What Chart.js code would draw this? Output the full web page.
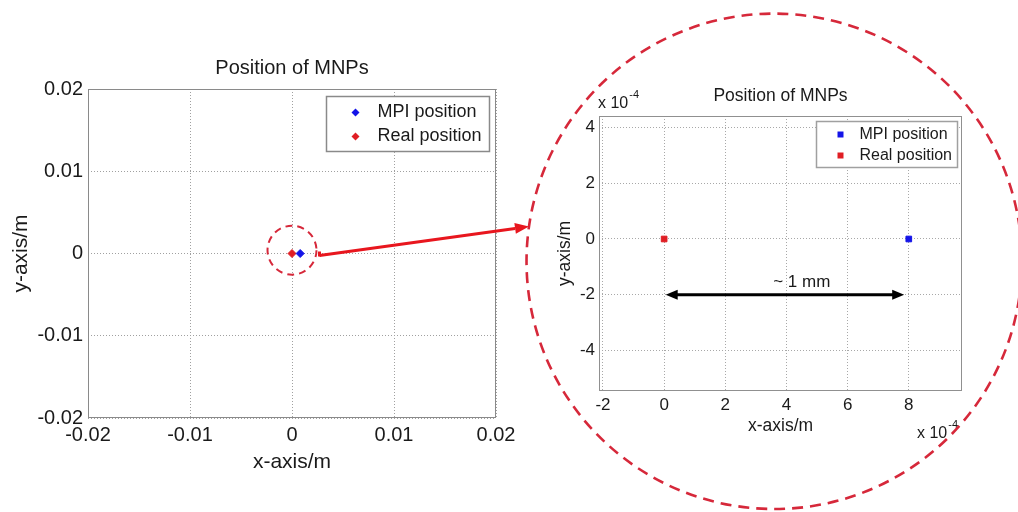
<!DOCTYPE html>
<html><head><meta charset="utf-8">
<script src="https://cdn.jsdelivr.net/npm/chart.js@4.4.1/dist/chart.umd.min.js"></script>
<style>
html,body{margin:0;padding:0;background:#fff;width:1018px;height:512px;overflow:hidden}
canvas{position:absolute;left:0;top:0}
</style></head><body>
<canvas id="c1" width="1018" height="512"></canvas>
<canvas id="c2" width="1018" height="512"></canvas>
<canvas id="ov" width="1018" height="512"></canvas>
<script>
// ---------- data ----------
const seriesNames = ['MPI position', 'Real position'];
const mpiPos = [{x: 0.0008, y: 0}];
const realPos = [{x: 0, y: 0}];
const fullRange = [-0.02, 0.02];
const fullTicks = [-0.02, -0.01, 0, 0.01, 0.02];
const fullTickLabels = ['-0.02', '-0.01', '0', '0.01', '0.02'];

const zoomMpiPos = [{x: 8e-4, y: 0}];
const zoomRealPos = [{x: 0, y: 0}];
const zoomXRange = [-2.13e-4, 9.74e-4];
const zoomYRange = [-5.45e-4, 4.41e-4];
const zoomXTicks = [-2e-4, 0, 2e-4, 4e-4, 6e-4, 8e-4];
const zoomXTickLabels = ['-2', '0', '2', '4', '6', '8'];
const zoomYTicks = [-4e-4, -2e-4, 0, 2e-4, 4e-4];
const zoomYTickLabels = ['-4', '-2', '0', '2', '4'];
const distanceFrom = [0.05e-4, -2e-4];
const distanceTo = [7.85e-4, -2e-4];
const distanceLabel = '~ 1 mm';
const distanceLabelX = 4.5e-4;
const exponentLabel = ['x 10', '-4'];

const titleText = 'Position of MNPs';
const xLabel = 'x-axis/m';
const yLabel = 'y-axis/m';

// zoom markers (data coordinates)
const smallCircle = {x: 0, y: 0.0004, r: 0.0024};
const bigCircle = {x: 3.6e-4, y: -0.8e-4, r: 8.1e-4};

// ---------- styles ----------
const FONT = "'Liberation Sans', Arial, Helvetica, sans-serif";
const TXT = '#1a1a1a';
const BLUE = '#1414e8';
const RED = '#e01e24';

const decor = {
  id: 'decor',
  afterDraw(chart, args, o) {
    const ctx = chart.ctx, ca = chart.chartArea;
    ctx.save();
    ctx.setLineDash([]);
    ctx.strokeStyle = o.frameColor; ctx.lineWidth = 1;
    ctx.strokeRect(Math.round(ca.left) + 0.5, Math.round(ca.top) + 0.5,
                   Math.round(ca.right - ca.left) - 1, Math.round(ca.bottom - ca.top) - 1);
    // legend
    const L = o.legend;
    const bx = Math.round(ca.right - L.right - L.w) + 0.5, by = Math.round(ca.top + L.top) + 0.5;
    ctx.fillStyle = '#fff'; ctx.fillRect(bx, by, L.w, L.h);
    ctx.strokeStyle = L.border; ctx.lineWidth = 1.5; ctx.strokeRect(bx, by, L.w, L.h);
    chart.data.datasets.forEach((ds, i) => {
      const y = by + L.rows[i];
      const mx = bx + L.markerX;
      ctx.fillStyle = ds.backgroundColor;
      ctx.beginPath();
      const r = L.markerR;
      if (ds.pointStyle === 'rectRot') {
        ctx.moveTo(mx, y - r); ctx.lineTo(mx + r, y); ctx.lineTo(mx, y + r); ctx.lineTo(mx - r, y); ctx.closePath();
      } else {
        ctx.rect(mx - r, y - r, 2 * r, 2 * r);
      }
      ctx.fill();
      ctx.fillStyle = TXT; ctx.font = L.size + 'px ' + FONT;
      ctx.textAlign = 'left'; ctx.textBaseline = 'middle';
      ctx.fillText(ds.label, bx + L.textX, y);
    });
    // exponent labels
    if (o.exponent) {
      const E = o.exponent;
      E.at.forEach(p => {
        const x = p.edge === 'left' ? ca.left + p.dx : ca.right + p.dx;
        const y = p.vedge === 'top' ? ca.top + p.dy : ca.bottom + p.dy;
        ctx.fillStyle = TXT; ctx.textAlign = 'left'; ctx.textBaseline = 'middle';
        ctx.font = E.size + 'px ' + FONT;
        ctx.fillText(exponentLabel[0], x, y);
        const w = ctx.measureText(exponentLabel[0]).width;
        ctx.font = E.supSize + 'px ' + FONT;
        ctx.fillText(exponentLabel[1], x + w + 1, y - 9);
      });
    }
    // distance arrow
    if (o.distance) {
      const sx = chart.scales.x, sy = chart.scales.y;
      const x1 = sx.getPixelForValue(distanceFrom[0]), y1 = sy.getPixelForValue(distanceFrom[1]);
      const x2 = sx.getPixelForValue(distanceTo[0]), y2 = sy.getPixelForValue(distanceTo[1]);
      ctx.strokeStyle = '#000'; ctx.fillStyle = '#000'; ctx.lineWidth = 3;
      const ah = 12, aw = 5;
      ctx.beginPath(); ctx.moveTo(x1 + ah - 2, y1); ctx.lineTo(x2 - ah + 2, y2); ctx.stroke();
      ctx.beginPath(); ctx.moveTo(x1, y1); ctx.lineTo(x1 + ah, y1 - aw); ctx.lineTo(x1 + ah, y1 + aw); ctx.closePath(); ctx.fill();
      ctx.beginPath(); ctx.moveTo(x2, y2); ctx.lineTo(x2 - ah, y2 - aw); ctx.lineTo(x2 - ah, y2 + aw); ctx.closePath(); ctx.fill();
      ctx.fillStyle = TXT; ctx.font = '17px ' + FONT; ctx.textAlign = 'center'; ctx.textBaseline = 'middle';
      ctx.fillText(distanceLabel, sx.getPixelForValue(distanceLabelX), y1 - 12);
    }
    ctx.restore();
  }
};

function fixedTicks(vals) { return s => { s.ticks = vals.map(v => ({value: v})); }; }

function axis(opts) {
  return {
    type: 'linear', min: opts.range[0], max: opts.range[1],
    afterBuildTicks: fixedTicks(opts.ticks),
    afterFit: opts.fit,
    ticks: {autoSkip: false, maxRotation: 0, padding: opts.pad, color: TXT,
            font: {family: FONT, size: opts.tickSize}, callback: (v, i) => opts.labels[i]},
    grid: {color: opts.gridColor, lineWidth: 1, drawTicks: false},
    border: {display: false, dash: [1, 2]},
    title: {display: true, text: opts.title, color: TXT, font: {family: FONT, size: opts.titleSize},
            padding: opts.titlePad}
  };
}

const left = new Chart(document.getElementById('c1'), {
  type: 'scatter',
  data: {datasets: [
    {label: seriesNames[0], data: mpiPos, pointStyle: 'rectRot', pointRadius: 4, backgroundColor: BLUE, borderColor: BLUE, borderWidth: 1},
    {label: seriesNames[1], data: realPos, pointStyle: 'rectRot', pointRadius: 4, backgroundColor: RED, borderColor: RED, borderWidth: 1}
  ]},
  options: {
    responsive: false, animation: false, events: [],
    layout: {padding: {left: 0, right: 522, top: 0, bottom: 0}},
    plugins: {
      legend: {display: false}, tooltip: {enabled: false},
      title: {display: true, text: titleText, fullSize: false, color: TXT,
              font: {family: FONT, size: 20, weight: 'normal'}, padding: {top: 56, bottom: 9}},
      decor: {frameColor: '#8a8a8a',
              legend: {right: 7, top: 7, w: 163, h: 55, rows: [16, 40], markerX: 29, markerR: 4, textX: 51, size: 18, border: '#8a8a8a'}}
    },
    scales: {
      x: axis({range: fullRange, ticks: fullTicks, labels: fullTickLabels, pad: 5, tickSize: 20,
               gridColor: '#a0a0a0', title: xLabel, titleSize: 21, titlePad: {top: 0, bottom: 37},
               fit: s => { s.height = 94; }}),
      y: axis({range: fullRange, ticks: fullTicks, labels: fullTickLabels, pad: 5, tickSize: 20,
               gridColor: '#a0a0a0', title: yLabel, titleSize: 21, titlePad: {top: 9, bottom: 0},
               fit: s => { s.width = 88; }})
    }
  },
  plugins: [decor]
});

const right = new Chart(document.getElementById('c2'), {
  type: 'scatter',
  data: {datasets: [
    {label: seriesNames[0], data: zoomMpiPos, pointStyle: 'rect', pointRadius: 4, backgroundColor: BLUE, borderColor: BLUE, borderWidth: 1},
    {label: seriesNames[1], data: zoomRealPos, pointStyle: 'rect', pointRadius: 4, backgroundColor: RED, borderColor: RED, borderWidth: 1}
  ]},
  options: {
    responsive: false, animation: false, events: [],
    layout: {padding: {left: 539, right: 56, top: 0, bottom: 71}},
    plugins: {
      legend: {display: false}, tooltip: {enabled: false},
      title: {display: true, text: titleText, fullSize: false, color: TXT,
              font: {family: FONT, size: 17.5, weight: 'normal'}, padding: {top: 85.5, bottom: 9.5}},
      decor: {frameColor: '#909090',
              legend: {right: 5, top: 5, w: 141, h: 46, rows: [13, 34], markerX: 24, markerR: 3, textX: 43, size: 16, border: '#a0a0a0'},
              exponent: {size: 16, supSize: 11, at: [
                {edge: 'left', dx: -1, vedge: 'top', dy: -12},
                {edge: 'right', dx: -45, vedge: 'bottom', dy: 43}]},
              distance: true}
    },
    scales: {
      x: axis({range: zoomXRange, ticks: zoomXTicks, labels: zoomXTickLabels, pad: 4, tickSize: 17,
               gridColor: '#a8a8a8', title: xLabel, titleSize: 17.5, titlePad: {top: 0, bottom: 4.5},
               fit: s => { s.height = 50; }}),
      y: axis({range: zoomYRange, ticks: zoomYTicks, labels: zoomYTickLabels, pad: 4, tickSize: 17,
               gridColor: '#a8a8a8', title: yLabel, titleSize: 17.5, titlePad: {top: 15.5, bottom: 0},
               fit: s => { s.width = 60; }})
    }
  },
  plugins: [decor]
});

// ---------- zoom annotation overlay ----------
(function () {
  const ctx = document.getElementById('ov').getContext('2d');
  const lx = left.scales.x, ly = left.scales.y, rx = right.scales.x, ry = right.scales.y;
  const sc = {x: lx.getPixelForValue(smallCircle.x), y: ly.getPixelForValue(smallCircle.y)};
  const sr = Math.abs(lx.getPixelForValue(smallCircle.r) - lx.getPixelForValue(0));
  const bc = {x: rx.getPixelForValue(bigCircle.x), y: ry.getPixelForValue(bigCircle.y)};
  const br = Math.abs(rx.getPixelForValue(bigCircle.r) - rx.getPixelForValue(0));
  ctx.strokeStyle = '#d6283a';
  ctx.lineWidth = 2; ctx.setLineDash([7, 5]);
  ctx.beginPath(); ctx.arc(sc.x, sc.y, sr, 0, Math.PI * 2); ctx.stroke();
  ctx.lineWidth = 2.6; ctx.setLineDash([11, 7]);
  ctx.beginPath(); ctx.arc(bc.x, bc.y, br, 0, Math.PI * 2); ctx.stroke();
  ctx.setLineDash([]);
  // arrow from small circle to big circle
  const start = {x: sc.x + sr + 3, y: ly.getPixelForValue(0) + 2};
  const ang = Math.PI + 0.141;
  const end = {x: bc.x + Math.cos(ang) * br, y: bc.y + Math.sin(ang) * br};
  ctx.strokeStyle = '#e8161e'; ctx.fillStyle = '#e8161e'; ctx.lineWidth = 3;
  ctx.beginPath(); ctx.moveTo(start.x, start.y - 4); ctx.lineTo(start.x, start.y + 1); ctx.stroke();
  const a = Math.atan2(end.y - start.y, end.x - start.x);
  const ah = 14, aw = 5.5;
  const bxp = end.x - Math.cos(a) * ah, byp = end.y - Math.sin(a) * ah;
  ctx.beginPath(); ctx.moveTo(start.x, start.y); ctx.lineTo(bxp, byp); ctx.stroke();
  ctx.beginPath(); ctx.moveTo(end.x, end.y);
  ctx.lineTo(bxp - Math.sin(a) * aw, byp + Math.cos(a) * aw);
  ctx.lineTo(bxp + Math.sin(a) * aw, byp - Math.cos(a) * aw);
  ctx.closePath(); ctx.fill();
})();
</script>
</body></html>
